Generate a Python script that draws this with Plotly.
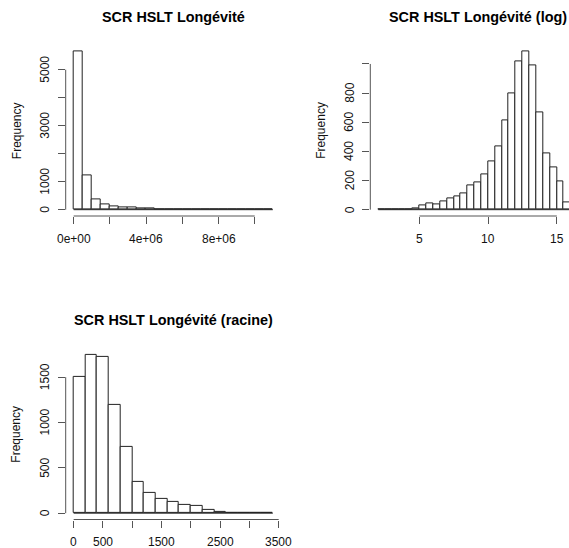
import plotly.graph_objects as go

# ---- data -------------------------------------------------------------
# Raw longevity, bins of 0.5e6 from 0 to 1.1e7
raw_breaks_start, raw_bin_width = 0.0, 5e5
raw_counts = [5643, 1214, 357, 190, 119, 95, 71, 48, 45, 24, 20, 18,
              3, 2, 2, 1, 1, 1, 0, 0, 1, 1]

# log(longevity), bins of 0.5 from 2 to 16.5
log_breaks_start, log_bin_width = 2.0, 0.5
log_counts = [1, 0, 2, 2, 3, 9, 30, 43, 37, 59, 78, 91, 114, 164, 187, 242,
              331, 432, 614, 797, 1018, 1084, 991, 669, 386, 290, 194, 50, 12]

# sqrt(longevity), bins of 200 from 0 to 3400
sqrt_breaks_start, sqrt_bin_width = 0.0, 200.0
sqrt_counts = [1500, 1742, 1723, 1192, 726, 341, 220, 154, 121, 88, 81,
               33, 18, 4, 1, 1, 1]

titles = ["SCR HSLT Longévité", "SCR HSLT Longévité (log)",
          "SCR HSLT Longévité (racine)"]
y_label = "Frequency"

raw_xticks = [0, 2e6, 4e6, 6e6, 8e6, 1e7]
raw_xtext = ["0e+00", "", "4e+06", "", "8e+06", ""]
raw_yticks = [0, 1000, 2000, 3000, 4000, 5000]
raw_ytext = ["0", "1000", "", "3000", "", "5000"]

log_xticks = [5, 10, 15]
log_xtext = ["5", "10", "15"]
log_yticks = [0, 200, 400, 600, 800, 1000]
log_ytext = ["0", "200", "400", "600", "800", ""]

sqrt_xticks = [0, 500, 1000, 1500, 2000, 2500, 3000, 3500]
sqrt_xtext = ["0", "500", "", "1500", "", "2500", "", "3500"]
sqrt_yticks = [0, 500, 1000, 1500]
sqrt_ytext = ["0", "500", "1000", "1500"]

# ---- layout geometry (pixels) ----------------------------------------
W, H = 569, 548
PLOT_W, PLOT_H = 215.1, 170.6
FONT = "Liberation Sans, Arial, sans-serif"
BAR_LINE = "#222222"
AXIS_COL = "#555555"
TEXT_COL = "#111111"
YLAB_GAP = 20.7     # axis edge -> centre of rotated y tick labels
XLAB_GAP = 22.6     # axis edge -> centre of x tick labels


def hist_geom(start, width, counts):
    n = len(counts)
    breaks = [start + i * width for i in range(n + 1)]
    centers = [(breaks[i] + breaks[i + 1]) / 2 for i in range(n)]
    lo, hi = breaks[0], breaks[-1]
    pad = 0.04 * (hi - lo)
    top = max(counts)
    return breaks, centers, [lo - pad, hi + pad], [-0.04 * top, 1.04 * top]


panels = [
    dict(start=raw_breaks_start, width=raw_bin_width, counts=raw_counts,
         left=65.7, top=45.4, xt=raw_xticks, xl=raw_xtext,
         yt=raw_yticks, yl=raw_ytext, title=titles[0]),
    dict(start=log_breaks_start, width=log_bin_width, counts=log_counts,
         left=370.3, top=45.4, xt=log_xticks, xl=log_xtext,
         yt=log_yticks, yl=log_ytext, title=titles[1]),
    dict(start=sqrt_breaks_start, width=sqrt_bin_width, counts=sqrt_counts,
         left=65.7, top=348.9, xt=sqrt_xticks, xl=sqrt_xtext,
         yt=sqrt_yticks, yl=sqrt_ytext, title=titles[2]),
]

fig = go.Figure()
shapes, annotations = [], []
tickfont = dict(family=FONT, size=12, color=TEXT_COL)

for k, p in enumerate(panels, start=1):
    xa = "x" if k == 1 else f"x{k}"
    ya = "y" if k == 1 else f"y{k}"
    breaks, centers, xr, yr = hist_geom(p["start"], p["width"], p["counts"])

    right = p["left"] + PLOT_W
    if right > W:  # panel runs past the page edge: clip the visible range
        xr = [xr[0], xr[0] + (xr[1] - xr[0]) * (W - p["left"]) / PLOT_W]
        right = W
    bottom = p["top"] + PLOT_H

    fig.add_trace(go.Bar(
        x=centers, y=p["counts"], width=p["width"],
        marker=dict(color="white", line=dict(color=BAR_LINE, width=1)),
        xaxis=xa, yaxis=ya, showlegend=False, hoverinfo="x+y"))

    axis_common = dict(showgrid=False, zeroline=False, showline=False,
                       ticks="outside", ticklen=7, tickwidth=1,
                       tickcolor=AXIS_COL, showticklabels=False,
                       tickmode="array", fixedrange=True, automargin=False)
    fig.layout[("xaxis" if k == 1 else f"xaxis{k}")] = dict(
        domain=[p["left"] / W, right / W], range=xr, anchor=ya,
        tickvals=p["xt"], **axis_common)
    fig.layout[("yaxis" if k == 1 else f"yaxis{k}")] = dict(
        domain=[(H - bottom) / H, (H - p["top"]) / H], range=yr, anchor=xa,
        tickvals=p["yt"], **axis_common)

    # baseline under the bars (zero-count bins included)
    shapes.append(dict(type="line", xref=xa, yref=ya,
                       x0=breaks[0], x1=breaks[-1], y0=0, y1=0,
                       line=dict(color=BAR_LINE, width=1)))
    # R-style axis lines spanning first to last tick
    shapes.append(dict(type="line", xref=xa, yref=f"{ya} domain",
                       x0=p["xt"][0], x1=p["xt"][-1], y0=0, y1=0,
                       line=dict(color=AXIS_COL, width=1)))
    shapes.append(dict(type="line", xref=f"{xa} domain", yref=ya,
                       x0=0, x1=0, y0=p["yt"][0], y1=p["yt"][-1],
                       line=dict(color=AXIS_COL, width=1)))

    # tick labels (R drops the ones that would collide)
    for v, t in zip(p["xt"], p["xl"]):
        if t:
            annotations.append(dict(
                text=t, xref=xa, yref="paper", x=v,
                y=(H - (bottom + XLAB_GAP)) / H,
                xanchor="center", yanchor="middle", showarrow=False,
                font=tickfont))
    for v, t in zip(p["yt"], p["yl"]):
        if t:
            annotations.append(dict(
                text=t, xref="paper", yref=ya,
                x=(p["left"] - YLAB_GAP) / W, y=v, textangle=-90,
                xanchor="center", yanchor="middle", showarrow=False,
                font=tickfont))

    # panel title
    full_center = p["left"] + PLOT_W / 2
    annotations.append(dict(
        text=f"<b>{p['title']}</b>", xref="paper", yref="paper",
        x=full_center / W, y=(H - (p["top"] - 28.7)) / H,
        xanchor="center", yanchor="middle", showarrow=False,
        font=dict(family=FONT, size=14.4, color="#000000")))
    # y axis label
    annotations.append(dict(
        text=y_label, xref="paper", yref="paper",
        x=(p["left"] - 49.2) / W, y=(H - (p["top"] + PLOT_H / 2)) / H,
        xanchor="center", yanchor="middle", textangle=-90, showarrow=False,
        font=tickfont))

fig.update_layout(
    width=W, height=H, autosize=False,
    margin=dict(l=0, r=0, t=0, b=0, pad=0, autoexpand=False),
    paper_bgcolor="white", plot_bgcolor="white",
    bargap=0, shapes=shapes, annotations=annotations,
)

fig.write_html(
    "out.html",
    config={"responsive": False, "displayModeBar": False},
    post_script="document.body.style.margin='0';",
)
